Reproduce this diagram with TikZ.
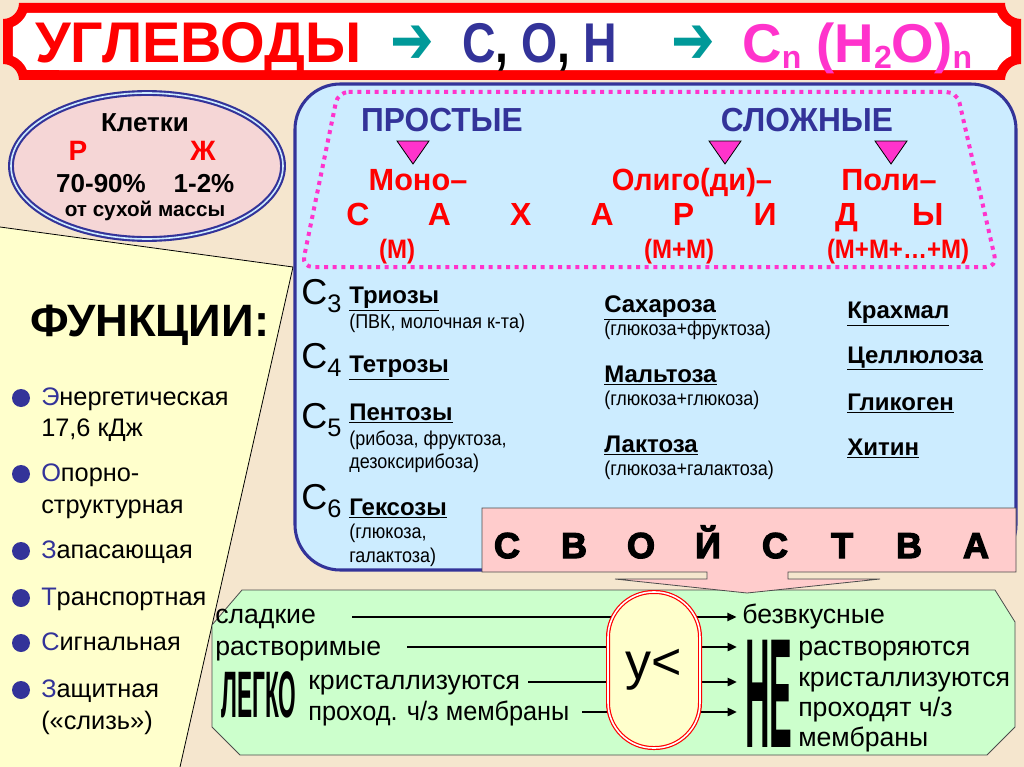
\documentclass[tikz,border=0pt]{standalone}
\usepackage{fontspec}
\usepackage{graphicx}
\setmainfont{Liberation Sans}
\newfontfamily\heavyfont{Liberation Sans}[FakeBold=3.5]
\newfontfamily\symfont{DejaVu Sans}
\usetikzlibrary{arrows.meta}

\definecolor{bgbeige}{RGB}{245,230,206}
\definecolor{dblue}{RGB}{51,51,153}
\definecolor{lblue}{RGB}{204,236,255}
\definecolor{pinkm}{RGB}{255,51,204}
\definecolor{tealar}{RGB}{0,153,153}
\definecolor{rosy}{RGB}{255,204,204}
\definecolor{ellpink}{RGB}{245,214,214}
\definecolor{lgreen}{RGB}{204,255,204}
\definecolor{lyellow}{RGB}{255,255,204}
\definecolor{redt}{RGB}{255,0,0}

\newcommand{\fsz}[1]{\fontsize{#1}{#1}\selectfont}
\newcommand{\nw}[2]{\scalebox{#1}[1]{#2}}
\newcommand{\sbs}[1]{\raisebox{-4pt}{\fsz{24}#1}}

\tikzset{
  txt/.style={inner sep=0pt, anchor=base},
  txtl/.style={inner sep=0pt, anchor=base west},
  conn/.style={line width=2.2pt, -{Triangle[length=7pt,width=6pt]}},
  pointer/.style={fill=pinkm, draw=black, line width=0.6pt},
  titarrow/.style={inner sep=0pt, font=\symfont\bfseries\fsz{34}, text=tealar},
  oval/.style={draw=redt, line width=0.9pt, double=white, double distance=1.2pt,
    fill=lyellow, rectangle, rounded corners=34pt, minimum width=69pt,
    minimum height=117pt, inner sep=0pt, font=\fsz{39}}
}

\begin{document}
\begin{tikzpicture}[x=0.75pt,y=-0.75pt]
\useasboundingbox (0,0) rectangle (1024,767);
\fill[bgbeige] (0,0) rectangle (1024,767);

% Title plate
\fill[redt] (19,3) -- (1005,3) arc (180:90:16) -- (1021,64) arc (270:180:16)
  -- (19,80) arc (360:270:16) -- (3,19) arc (90:0:16) -- cycle;
\fill[white] (27,13) -- (997,13) arc (157.4:112.6:26) -- (1011,56) arc (247.4:202.6:26)
  -- (27,70) arc (337.4:292.6:26) -- (13,27) arc (67.4:22.6:26) -- cycle;
\node[txtl, font=\fsz{43}\bfseries, text=redt] (tit) at (35,63) {УГЛЕВОДЫ};
\node[titarrow] (ar1) at (412,45) {\scalebox{1.15}[1.5]{➔}};
\node[txtl, font=\fsz{42}\bfseries] (elem) at (462,63)
  {\nw{0.83}{\textcolor{dblue}{С}, \textcolor{dblue}{О}, \textcolor{dblue}{Н}}};
\node[titarrow] (ar2) at (693,45) {\scalebox{1.15}[1.5]{➔}};
\node[txtl, font=\fsz{41}\bfseries, text=pinkm] (form) at (742,63)
  {C\sbs{n} (H\sbs{2}O)\sbs{n}};

% Functions panel
\fill[lyellow] (0,227) -- (293,267) -- (180,767) -- (0,767) -- cycle;
\draw[line width=0.6pt] (0,227) -- (293,267) -- (180,767);
\node[txtl, font=\fsz{34}\bfseries] (fun) at (30,336) {ФУНКЦИИ:};
\foreach \by in {398,474,551,598,643,690}
  \fill[dblue] (21,\by) circle (9);
\node[txtl, font=\fsz{19}] (f1) at (41,405) {\textcolor{dblue}{Э}нергетическая};
\node[txtl, font=\fsz{19}] (f1b) at (41,436) {17,6 кДж};
\node[txtl, font=\fsz{19}] (f2) at (41,481) {\textcolor{dblue}{О}порно-};
\node[txtl, font=\fsz{19}] (f2b) at (41,513) {структурная};
\node[txtl, font=\fsz{19}] (f3) at (41,558) {\textcolor{dblue}{З}апасающая};
\node[txtl, font=\fsz{19}] (f4) at (41,605) {\textcolor{dblue}{Т}ранспортная};
\node[txtl, font=\fsz{19}] (f5) at (41,650) {\textcolor{dblue}{С}игнальная};
\node[txtl, font=\fsz{19}] (f6) at (41,697) {\textcolor{dblue}{З}ащитная};
\node[txtl, font=\fsz{19}] (f6b) at (41,729) {(«слизь»)};

% Cells ellipse
\draw[fill=ellpink, draw=dblue, line width=1.6pt, double=lblue, double distance=1.2pt]
  (147,166) ellipse (136 and 73);
\node[txt, font=\fsz{19.5}\bfseries] (kl) at (145,131) {Клетки};
\node[txt, font=\fsz{21}\bfseries, text=redt] (rast) at (78,160) {Р};
\node[txt, font=\fsz{21}\bfseries, text=redt] (zhiv) at (203,160) {Ж};
\node[txt, font=\fsz{19.5}\bfseries] (pr1) at (101,192) {70-90\%};
\node[txt, font=\fsz{19.5}\bfseries] (pr2) at (204,192) {1-2\%};
\node[txt, font=\fsz{15.5}\bfseries] (suh) at (145,216) {от сухой массы};

% Classes box
\draw[draw=dblue, line width=2.3pt, fill=lblue, rounded corners=34pt] (295,84) rectangle (1016,570);
\draw[pinkm, line width=3pt, dash pattern=on 3pt off 3.5pt, rounded corners=8pt]
  (338,92) -- (957,92) -- (997,267) -- (302,267) -- cycle;
\node[txt, font=\fsz{25}\bfseries, text=dblue] (prost) at (442,131) {\nw{0.95}{ПРОСТЫЕ}};
\node[txt, font=\fsz{25}\bfseries, text=dblue] (slozh) at (807,131) {\nw{0.95}{СЛОЖНЫЕ}};
\foreach \tx in {413,725,891}
  \filldraw[pointer] (\tx-16,141) -- (\tx+16,141) -- (\tx,164) -- cycle;
\node[txt, font=\fsz{23}\bfseries, text=redt] (mono) at (418,190) {Моно–};
\node[txt, font=\fsz{23}\bfseries, text=redt] (olig) at (692,190) {\nw{0.95}{Олиго(ди)–}};
\node[txt, font=\fsz{23}\bfseries, text=redt] (poli) at (889,190) {Поли–};
\foreach \l [count=\i] in {С,А,Х,А,Р,И,Д,Ы}
  \node[txt, font=\fsz{24}\bfseries, text=redt] (sah\i) at ({358+81.4*(\i-1)},225) {\l};
\node[txt, font=\fsz{20}\bfseries, text=redt] (mm1) at (397,258) {\nw{0.9}{(М)}};
\node[txt, font=\fsz{20}\bfseries, text=redt] (mm2) at (679,258) {\nw{0.9}{(М+М)}};
\node[txt, font=\fsz{20}\bfseries, text=redt] (mm3) at (898,258) {\nw{0.9}{(М+М+…+М)}};

% Monosaccharides
\node[txtl, font=\fsz{27}] (c3) at (301,304) {C\raisebox{-6pt}{\fsz{19}3}};
\node[txtl, font=\fsz{27}] (c4) at (301,368) {C\raisebox{-6pt}{\fsz{19}4}};
\node[txtl, font=\fsz{27}] (c5) at (301,428) {C\raisebox{-6pt}{\fsz{19}5}};
\node[txtl, font=\fsz{27}] (c6) at (301,509) {C\raisebox{-6pt}{\fsz{19}6}};
\node[txtl, font=\fsz{18}\bfseries] (tri) at (349,303) {\underline{Триозы}};
\node[txtl, font=\fsz{15}] (tri2) at (349,328) {\nw{0.9}{(ПВК, молочная к-та)}};
\node[txtl, font=\fsz{18}\bfseries] (tet) at (349,372) {\underline{Тетрозы}};
\node[txtl, font=\fsz{18}\bfseries] (pen) at (349,420) {\underline{Пентозы}};
\node[txtl, font=\fsz{15}] (pen2) at (349,445) {\nw{0.9}{(рибоза, фруктоза,}};
\node[txtl, font=\fsz{15}] (pen3) at (349,468) {\nw{0.9}{дезоксирибоза)}};
\node[txtl, font=\fsz{18}\bfseries] (gek) at (349,515) {\underline{Гексозы}};
\node[txtl, font=\fsz{15}] (gek2) at (349,538) {\nw{0.9}{(глюкоза,}};
\node[txtl, font=\fsz{15}] (gek3) at (349,562) {\nw{0.9}{галактоза)}};

% Disaccharides
\node[txtl, font=\fsz{18}\bfseries] (sahr) at (604,312) {\underline{Сахароза}};
\node[txtl, font=\fsz{15}] (sahr2) at (604,335) {\nw{0.9}{(глюкоза+фруктоза)}};
\node[txtl, font=\fsz{18}\bfseries] (malt) at (604,382) {\underline{Мальтоза}};
\node[txtl, font=\fsz{15}] (malt2) at (604,405) {\nw{0.9}{(глюкоза+глюкоза)}};
\node[txtl, font=\fsz{18}\bfseries] (lakt) at (604,452) {\underline{Лактоза}};
\node[txtl, font=\fsz{15}] (lakt2) at (604,475) {\nw{0.9}{(глюкоза+галактоза)}};

% Polysaccharides
\node[txtl, font=\fsz{18}\bfseries] (krah) at (847,318) {\underline{Крахмал}};
\node[txtl, font=\fsz{18}\bfseries] (cell) at (847,363) {\underline{Целлюлоза}};
\node[txtl, font=\fsz{18}\bfseries] (glik) at (847,410) {\underline{Гликоген}};
\node[txtl, font=\fsz{18}\bfseries] (hit) at (847,455) {\underline{Хитин}};

% Properties box
\fill[lgreen, draw=black!70, line width=0.6pt] (242,590) -- (995,590) -- (1015,622) -- (1015,727)
  -- (987,755) -- (240,755) -- (212,727) -- (212,625) -- cycle;
\filldraw[fill=rosy, draw=black!70, line width=0.6pt] (482,508) -- (1016,508) -- (1016,572)
  -- (788,572) -- (788,579) -- (880,579) -- (747,593) -- (615,579) -- (707,579)
  -- (707,572) -- (482,572) -- cycle;
\foreach \l [count=\i] in {С,В,О,Й,С,Т,В,А}
  \node[txt, font=\heavyfont\bfseries\fsz{27}] (sv\i) at ({507+67*(\i-1)},558) {\l};

\node[txtl, font=\fsz{20}] (sl) at (215,623) {сладкие};
\node[txtl, font=\fsz{20}] (rv) at (215,655) {растворимые};
\node[txtl, font=\fsz{34}\bfseries] (lg) at (221,717) {\scalebox{0.5}[1.45]{ЛЕГКО}};
\node[txtl, font=\fsz{20}] (kr) at (308,689) {кристаллизуются};
\node[txtl, font=\fsz{20}] (pr) at (308,720) {\nw{0.95}{проход. ч/з мембраны}};
\node[txtl, font=\fsz{20}] (bz) at (742,623) {безвкусные};
\node[txtl, font=\fsz{30}\bfseries] (ne) at (745,747) {\scalebox{0.85}[3.9]{НЕ}};
\node[txtl, font=\fsz{20}] (rs) at (798,655) {растворяются};
\node[txtl, font=\fsz{20}] (kr2) at (798,686) {кристаллизуются};
\node[txtl, font=\fsz{20}] (pr2) at (798,716) {проходят ч/з};
\node[txtl, font=\fsz{20}] (mb) at (798,746) {мембраны};

\coordinate (s1) at (352,617);
\coordinate (s2) at (407,647);
\coordinate (s3) at (528,682);
\coordinate (s4) at (582,712);
\draw[conn, shorten >=4pt] (s1) -- (s1 -| bz.west);
\draw[conn, shorten >=6pt] (s2) -- (s2 -| ne.west);
\draw[conn, shorten >=6pt] (s3) -- (s3 -| ne.west);
\draw[conn, shorten >=6pt] (s4) -- (s4 -| ne.west);
\node[oval] (ov) at (654,670) {у<};
\end{tikzpicture}
\end{document}
